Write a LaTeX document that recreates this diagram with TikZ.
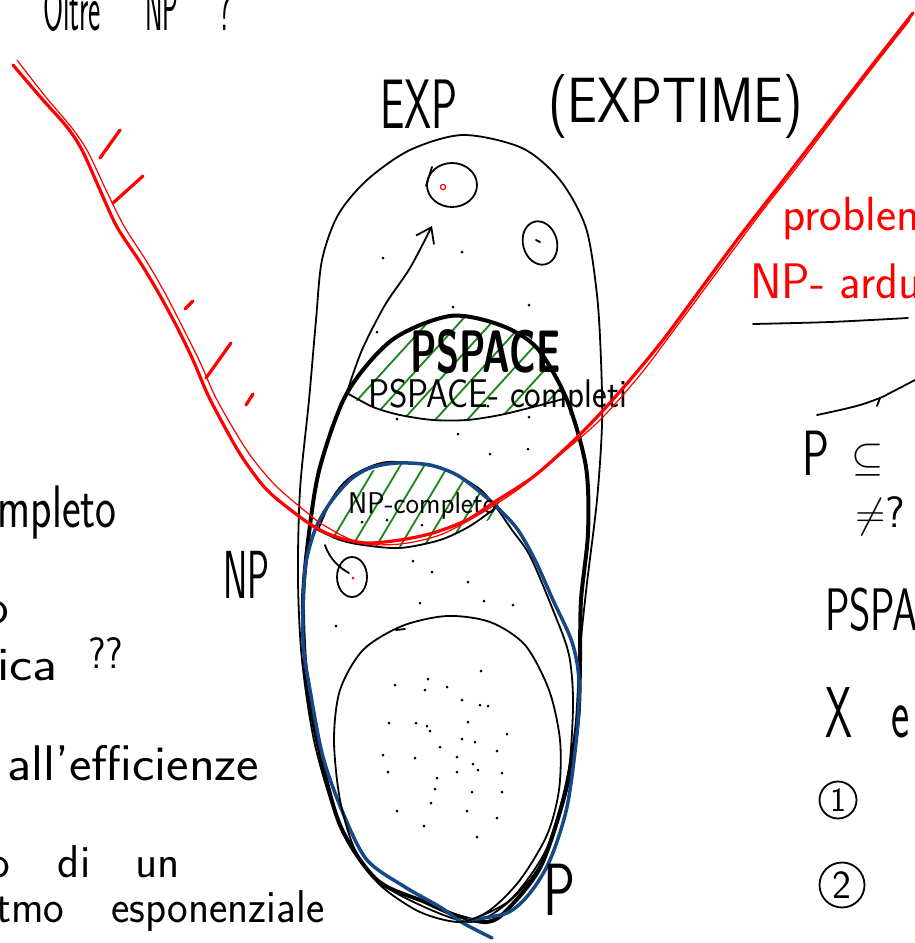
\documentclass[tikz,border=0pt]{standalone}
\usepackage{amsmath}
\usetikzlibrary{arrows.meta}

\definecolor{npblue}{RGB}{22,72,135}
\definecolor{hatchgreen}{RGB}{20,135,20}
\newcommand{\hfont}[1]{\fontsize{#1}{#1}\selectfont\sffamily}

\tikzset{
  hand/.style={inner sep=0pt, anchor=base west},
  thinpen/.style={line width=1.8pt},
  thickpen/.style={line width=4pt},
  bluepen/.style={npblue, line width=3.5pt},
  redpen/.style={red, line width=3.2pt},
  redthin/.style={red, line width=1.2pt},
  hatch/.style={hatchgreen, line width=1.8pt},
  dot/.style={black},
  circled/.style={draw, circle, line width=1.8pt, inner sep=0pt},
}

\begin{document}
\begin{tikzpicture}[x=1pt,y=-1pt,line cap=round,line join=round]
  \useasboundingbox (0,0) rectangle (915,943);

  % --- green hatching: PSPACE-completi ---
  \begin{scope}
    \clip plot[smooth cycle] coordinates {(347,393) (372,352) (405,328) (450,316) (500,325) (537,348) (567,398) (533,407) (467,420) (400,415)};
    \foreach \x in {330,362,...,620} \draw[hatch] (\x,430) -- ++(110,-121);
  \end{scope}

  % --- green hatching: NP-completo ---
  \begin{scope}
    \clip plot[smooth cycle] coordinates {(316,530) (335,500) (360,477) (397,463) (440,467) (480,490) (505,510) (470,528) (440,540) (400,548) (360,545)};
    \foreach \x in {296,320,...,520} \draw[hatch] (\x,560) -- ++(62,-104);
  \end{scope}

  % --- EXP (thin) ---
  \draw[thinpen] plot[smooth cycle] coordinates {(463,135) (522,148) (560,180) (586,228) (597,295) (601,360) (602,425) (597,500) (587,583) (580,650) (575,730) (562,800) (540,865) (505,905) (470,922) (420,905) (375,878) (340,825) (315,745) (302,660) (298,580) (300,490) (309,400) (316,320) (322,260) (338,215) (367,180) (410,150)};

  % --- PSPACE (thick) ---
  \draw[thickpen] plot[smooth cycle] coordinates {(450,316) (500,325) (537,348) (567,400) (586,467) (588,533) (581,600) (580,660) (578,720) (566,790) (541,866) (507,910) (487,922) (455,915) (425,902) (377,880) (340,825) (317,740) (306,673) (303,600) (309,533) (320,467) (347,393) (392,340)};
  \draw[thinpen] plot[smooth] coordinates {(347,393) (373,407) (400,415) (433,420) (467,420) (500,415) (533,407) (567,398)};

  % --- NP (thin outline + blue) ---
  \draw[thinpen] plot[smooth] coordinates {(318,530) (333,497) (352,476) (387,462) (440,468) (477,487) (495,506) (512,530) (530,556) (553,610) (569,655) (573,707) (567,783) (546,850) (510,900) (470,920)};
  \draw[thinpen] plot[smooth] coordinates {(318,530) (340,540) (363,545) (400,548) (440,540) (470,526) (498,506)};
  \draw[bluepen] plot[smooth] coordinates {(468,920) (507,913) (530,893) (550,860) (567,807) (577,733) (579,680) (572,642) (553,600) (535,560) (518,530) (500,510) (480,492) (457,475) (430,465) (397,463) (370,468) (350,480) (330,503) (315,530) (305,570) (303,640) (310,690) (323,757) (343,813) (367,860) (405,887) (440,907) (463,923) (492,938)};

  % --- P (thin) ---
  \draw[thinpen] plot[smooth cycle] coordinates {(447,616) (490,622) (525,645) (549,690) (560,740) (559,790) (547,835) (520,880) (490,910) (460,922) (420,912) (380,885) (355,850) (340,800) (334,740) (340,690) (363,650) (402,626)};
  \draw[thinpen] (396,630) -- (405,629);

  % --- small problems ---
  \draw[thinpen] (452,185) ellipse [x radius=25, y radius=22];
  \draw[thinpen] (432,167) -- (426,186);
  \draw[red, line width=1.2pt] (443,187) circle (2.6);
  \draw[thinpen, rotate around={15:(540,243)}] (540,243) ellipse [x radius=17, y radius=22];
  \draw[thinpen] (536,240) -- (540,242);
  \draw[thinpen] (352,577) ellipse [x radius=15, y radius=20];
  \fill[red] (353,578) circle (1.5);
  \draw[thinpen] (325,545) .. controls (330,560) and (340,568) .. (349,573);
  \draw[thinpen, -{Straight Barb[length=14pt,width=20pt]}] plot[smooth] coordinates {(347,392) (362,350) (385,305) (410,268) (432,226)};

  % --- dots ---
  \foreach \x/\y in {383/258, 462/252, 453/307, 529/305, 377/332, 397/419, 458/434, 490/454, 529/417, 528/449, 488/406,
                    413/561, 432/572, 468/582, 420/603, 484/601, 513/605, 336/626, 362/522, 387/520, 422/525,
                    395/685, 428/679, 447/687, 425/690, 462/700, 480/705, 488/706, 389/723, 416/723, 427/726, 430/731,
                    468/722, 507/734, 462/739, 475/742, 440/747, 497/751, 383/755, 415/758, 457/757, 473/764, 478/770,
                    457/772, 388/772, 437/778, 502/773, 435/789, 472/792, 502/792, 431/803, 397/811, 467/811, 497/818,
                    424/826, 477/837, 481/671}
    \fill[dot] (\x,\y) circle (1.5);

  % --- labels in the diagram ---
  \node[hand, font=\hfont{70}, xscale=.62] (exp) at (380,128) {EXP};
  \node[hand, font=\hfont{64}, xscale=.83] (exptime) at (548,122) {(EXPTIME)};
  \node[hand, font=\hfont{60}\bfseries, xscale=.63] (pspace) at (410,372) {PSPACE};
  \node[hand, font=\hfont{40}, xscale=.88] (pspacec) at (368,407) {PSPACE- completi};
  \node[hand, font=\hfont{30}, xscale=.96] (npc) at (348,513) {NP-completo};
  \node[hand, font=\hfont{68}, xscale=.54] (nplabel) at (223,598) {NP};
  \node[hand, font=\hfont{74}, xscale=.72] (plabel) at (543,915) {P};

  % --- red border: NP-hard ---
  \draw[redpen] plot[smooth] coordinates {(13,65) (43,100) (67,127) (82,150) (100,190) (117,227) (140,262) (158,292) (177,327) (193,360) (207,393) (222,422) (242,457) (267,490) (300,517) (320,530) (340,538) (367,543) (400,540) (433,533) (467,520) (493,503) (533,477) (567,447) (597,417) (630,380) (663,340) (700,290) (740,236) (782,182) (826,125) (870,68) (913,13)};
  \draw[redthin] plot[smooth] coordinates {(17,60) (45,96) (72,128) (88,152) (106,190) (124,226) (147,262) (166,295) (184,330) (200,362) (214,394) (230,423) (250,455) (275,485) (305,511) (325,526) (360,543) (400,544) (440,535) (480,514) (520,488) (560,455) (600,420) (640,375) (680,322) (720,268) (760,214) (800,163) (840,110) (880,58) (910,20)};
  \foreach \ax/\ay/\bx/\by in {100/158/120/130, 113/203/143/176, 185/309/193/301, 206/378/231/343, 246/405/253/394}
    \draw[redpen] (\ax,\ay) -- (\bx,\by);

  \node[hand, red, font=\hfont{48}, xscale=1] (probl) at (782,230) {problemi};
  \node[hand, red, font=\hfont{50}, xscale=.95] (ardui) at (750,298) {NP- ardui};

  % --- notes on the right ---
  \draw[thinpen] plot[smooth] coordinates {(753,324) (830,322) (908,318)};
  \draw[thinpen] plot[smooth] coordinates {(817,415) (840,410) (860,405) (880,398) (890,393) (915,380)};
  \draw[thinpen] (880,398) -- (877,406);
  \node[hand, font=\hfont{64}, xscale=.7] (pq) at (802,475) {P};
  \node[hand, font=\hfont{20}, scale=2] (subs) at (851,470) {$\subseteq$};
  \node[hand, font=\hfont{22}, scale=2] (neq) at (855,527) {$\neq$?};
  \node[hand, font=\hfont{60}, xscale=.68] (pspa) at (825,630) {PSPACE};
  \node[hand, font=\hfont{72}, xscale=.6] (xe) at (825,737) {X\hspace{65pt}e};
  \node[circled, minimum size=37pt, font=\hfont{34}] (one) at (838,800) {1};
  \node[circled, minimum size=45pt, font=\hfont{40}] (two) at (842,885) {2};

  % --- notes on the left ---
  \node[hand, anchor=base east, font=\hfont{60}, xscale=.74] (completo) at (117,527) {mpleto};
  \node[hand, font=\hfont{50}] (lo) at (-15,623) {o};
  \node[hand, font=\hfont{48}, xscale=1.15] (ica) at (-3,680) {ica};
  \node[hand, font=\hfont{44}, xscale=.9] (qq) at (88,668) {??};
  \node[hand, font=\hfont{50}, xscale=1.07] (eff) at (7,780) {all'efficienze};
  \node[hand, font=\hfont{46}] (odiun) at (-12,877) {o\hspace{48pt}di\hspace{45pt}un};
  \node[hand, font=\hfont{46}, xscale=.95] (espon) at (-4,922) {tmo\hspace{50pt}esponenziale};

  % --- title ---
  \node[hand, font=\hfont{66}, xscale=.44] (oltre) at (43,30) {Oltre};
  \node[hand, font=\hfont{66}, xscale=.4] (oltrenp) at (145,30) {NP};
  \node[hand, font=\hfont{66}, xscale=.45] (oltreq) at (218,30) {?};
\end{tikzpicture}
\end{document}
